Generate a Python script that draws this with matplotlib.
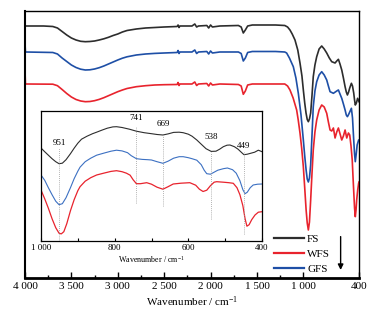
import matplotlib
matplotlib.use("Agg")
import matplotlib.pyplot as plt
from matplotlib.lines import Line2D

plt.rcParams['font.family'] = ['Liberation Serif', 'DejaVu Serif']
plt.rcParams['mathtext.fontset'] = 'custom'
plt.rcParams['mathtext.rm'] = 'Liberation Serif'
plt.rcParams['mathtext.it'] = 'Liberation Serif:italic'

# ---------------- main spectra (wavenumber, transmittance a.u.) -------------
oh_w = [3700, 3650, 3600, 3550, 3500, 3450, 3400, 3350, 3300, 3250, 3200, 3150, 3100, 3050, 3000, 2950,
        2900, 2800, 2700, 2600, 2500]
mid_w = [2360, 2350, 2340, 2330, 2200, 2170, 2150, 2130, 2040, 2020, 2000, 1980, 1900, 1700, 1670, 1647,
         1625, 1600, 1550, 1300]

fs_w = [4000, 3800] + oh_w + mid_w + [
    1200, 1170, 1144, 1120, 1090, 1060, 1036, 1015, 1000, 985, 971, 958, 946, 934, 921, 907, 893, 875,
    856, 830, 802, 775, 748, 720, 694, 658, 640, 622, 605, 586, 568, 550, 537, 525, 512, 500, 482, 470,
    457, 448, 440, 428, 415, 400]
fs_t = [252, 252] + [
    251.5, 250, 246.5, 243, 240, 238, 236.7, 236.3, 236.5, 237, 238, 239.2, 240.7, 242.5, 244, 246,
    247.5, 249, 250, 250.5, 251] + [
    251.5, 253, 250.5, 252, 252, 254, 251, 252, 252.5, 250, 253, 251, 252, 252.5, 251, 245,
    248, 252, 253, 253] + [
    252.5, 251, 248, 244, 238, 228, 215, 202, 188, 175, 165, 158.5, 156.3, 159, 165, 182, 201.3, 213,
    221.3, 229, 232, 229, 225, 220, 216.3, 215, 217, 218.7, 214, 208, 200, 191.3, 186, 183, 186, 190,
    194.7, 192, 185, 178, 173, 175, 179.7, 176.3]

gfs_w = [4000, 3995] + oh_w + mid_w + [
    1200, 1180, 1150, 1108, 1080, 1054, 1025, 1000, 985, 970, 958, 946, 934, 921, 907, 893, 875, 856,
    830, 802, 775, 748, 730, 712, 676, 640, 622, 605, 586, 568, 550, 537, 525, 512, 500, 482, 470, 457,
    448, 440, 430, 420, 404, 400]
gfs_t = [235, 226] + [
    225.5, 224, 220, 216.5, 213, 210.5, 208.8, 208, 208.2, 209, 210.3, 212, 214, 216, 218, 219.8,
    221.2, 223, 224, 224.6, 225] + [
    225.5, 227.5, 224.5, 226, 226, 228, 224.5, 226, 226.5, 224, 227, 225, 226, 226, 224.5, 217,
    220, 225.5, 226.5, 226.5] + [
    226, 225, 220, 211.3, 200, 184.7, 163, 138, 122, 108, 99, 96, 100, 113, 142, 171.3, 187, 196.3,
    203, 206.3, 203, 198, 192, 186.3, 184.7, 187, 188, 184, 179.7, 174, 168, 163, 161.3, 163.5, 166,
    169.7, 160, 138, 124, 116.3, 124, 133, 138, 138]

wfs_w = [4000, 3995] + oh_w + mid_w + [
    1200, 1170, 1144, 1110, 1072, 1055, 1036, 1018, 1000, 985, 970, 958, 946, 934, 921, 907, 893, 875,
    856, 830, 802, 775, 748, 730, 712, 694, 676, 658, 640, 622, 604, 586, 568, 550, 532, 514, 500, 486,
    473, 464, 455, 448, 440, 432, 425, 414, 404, 400]
wfs_t = [208, 194] + [
    193.8, 192.3, 188.5, 184.5, 181, 178.5, 177, 176.3, 176.5, 177.3, 178.6, 180.3, 182.3, 184.3,
    186.3, 188, 189.5, 191.3, 192.3, 193, 193.3] + [
    193.5, 195.5, 192.5, 194, 194, 196, 192.5, 194, 194.5, 192, 195, 193, 194, 193.5, 192, 183.7,
    187, 193, 194, 194] + [
    194, 192, 188, 180, 168, 158, 145, 130, 111.3, 90, 68, 55, 48, 56, 78, 104, 128, 146,
    158, 168, 173, 171, 164.7, 156, 148, 147, 150, 140, 146, 150, 144, 138, 142, 148, 140, 145, 143,
    132, 118, 100, 83, 70, 61.3, 68, 78, 88, 94.7, 96]

# ---------------- inset spectra (1000-400 cm-1) -------------
in_fs_w = [1000, 990, 980, 970, 960, 951, 942, 932, 920, 910, 900, 890, 875, 860, 849, 835, 820, 805,
           795, 780, 760, 741, 720, 700, 685, 669, 655, 640, 625, 614, 600, 590, 577, 565, 552, 538,
           525, 515, 505, 495, 487, 475, 465, 455, 449, 440, 430, 420, 410, 400]
in_fs_t = [92.7, 89, 85.5, 82, 79, 77, 77.5, 81, 87, 92.5, 97.5, 101.5, 104.5, 107, 108.5, 110.5,
           112.5, 113.8, 114, 113.2, 111.5, 109.5, 108, 107, 106.2, 105.7, 106.8, 108.3, 108.5, 108,
           106.5, 104.5, 100.7, 96.5, 92, 89.3, 89.5, 91.5, 94, 95.5, 95.7, 94, 91.5, 88, 86, 86.5,
           87.5, 88.5, 90.5, 89]

in_gfs_w = [1000, 990, 980, 970, 960, 951, 942, 932, 920, 910, 900, 894, 880, 865, 849, 830, 810, 795,
            780, 765, 755, 741, 725, 710, 700, 685, 669, 655, 640, 625, 614, 600, 590, 577, 565, 557,
            550, 540, 530, 520, 505, 494, 480, 470, 460, 452, 446, 440, 432, 424, 412, 400]
in_gfs_t = [65.7, 60.5, 53, 46, 39.5, 36, 37, 43, 53, 62, 69.5, 73.5, 79, 82.5, 85.5, 87.5, 89.5, 90.5,
            89.8, 88, 85, 82, 81.3, 81, 80.7, 79, 77.4, 79.5, 82.5, 84, 84, 83, 82, 80.5, 76, 70.5, 67,
            66.5, 68.5, 70.5, 72, 72.7, 71, 67.5, 60, 51, 47, 48.5, 53, 55.7, 56.5, 56.7]

in_wfs_w = [1000, 990, 980, 970, 960, 951, 945, 938, 930, 920, 910, 900, 894, 880, 865, 849, 830, 810,
            795, 780, 768, 758, 750, 741, 730, 713, 700, 685, 669, 655, 641, 620, 596, 580, 570, 560,
            550, 540, 530, 523, 505, 490, 478, 468, 460, 452, 446, 441, 435, 428, 419, 410, 400]
in_wfs_t = [50.7, 42, 32.5, 22, 13, 7.5, 6.8, 9, 17, 30, 41, 50, 54, 59.5, 63, 65.7, 67.5, 69.3, 70,
            69, 67.5, 65.5, 61, 57, 57, 58, 56.5, 53.5, 51.5, 54, 56.7, 57.5, 58, 55.5, 51.5, 49.2,
            50.5, 55, 58.5, 59, 58.5, 58, 57.4, 53, 46, 35, 22, 14.5, 16, 21, 25.7, 28.5, 29]

peak_pos = [951, 741, 669, 538, 449]
peak_labels = ['951', '741', '669', '538', '449']
line_top = [92.7, 114, 104.7, 88.7, 88.7]
line_bot = [0, 37.7, 34.7, 21.7, 6.7]
label_y = [97.7, 122.7, 116.7, 104, 95]

main_ticks = [4000, 3500, 3000, 2500, 2000, 1500, 1000, 400]
main_ticklabels = ['4 000', '3 500', '3 000', '2 500', '2 000', '1 500', '1 000', '400']
main_minor = [3750, 3250, 2750, 2250, 1750, 1250]
in_ticks = [1000, 800, 600, 400]
in_ticklabels = ['1 000', '800', '600', '400']
in_minor = [900, 700, 500]

c_black = '#2d2d2d'
c_red = '#e8232d'
c_blue = '#1e4fa6'
c_blue_in = '#3c70c2'

fig = plt.figure(figsize=(3.82, 3.16), dpi=100)
ax = fig.add_axes([0.0654, 0.1203, 0.8744, 0.8449])
ax.plot(fs_w, fs_t, color=c_black, lw=1.2)
ax.plot(gfs_w, gfs_t, color=c_blue, lw=1.2)
ax.plot(wfs_w, wfs_t, color=c_red, lw=1.2)
ax.set_xlim(4000, 400)
ax.set_ylim(0, 267)
ax.set_yticks([])
ax.set_xticks(main_ticks)
ax.set_xticklabels(main_ticklabels, fontsize=8)
ax.set_xticks(main_minor, minor=True)
ax.tick_params(axis='x', which='major', direction='in', length=4, width=1, pad=3)
ax.tick_params(axis='x', which='minor', direction='in', length=2.5, width=1)
ax.set_xlabel('Wavenumber / cm$^{\\mathrm{-1}}$', fontsize=8, labelpad=2)
for s in ['top', 'right']:
    ax.spines[s].set_linewidth(1.0)
ax.spines['left'].set_linewidth(1.5)
ax.spines['bottom'].set_linewidth(2.0)

handles = [Line2D([], [], color=c_black, lw=1.6),
           Line2D([], [], color=c_red, lw=1.6),
           Line2D([], [], color=c_blue, lw=1.6)]
ax.legend(handles, ['FS', 'WFS', 'GFS'], loc='center left', bbox_to_anchor=(0.745, 0.09),
          frameon=False, fontsize=8, handlelength=2.7, handletextpad=0.3, labelspacing=0.45,
          borderpad=0, borderaxespad=0)
ax.annotate('', xy=(0.945, 0.03), xytext=(0.945, 0.155), xycoords='axes fraction',
            arrowprops=dict(arrowstyle='-|>', color='black', lw=1.0, mutation_scale=8,
                            shrinkA=0, shrinkB=0))

# inset
axi = fig.add_axes([0.1073, 0.2383, 0.5786, 0.4114])
axi.plot(in_fs_w, in_fs_t, color=c_black, lw=0.8)
axi.plot(in_gfs_w, in_gfs_t, color=c_blue_in, lw=0.8)
axi.plot(in_wfs_w, in_wfs_t, color=c_red, lw=0.9)
axi.vlines(peak_pos, line_bot, line_top, colors='#9a9a9a', linestyles=(0, (1, 1.5)), lw=0.6)
for x, lab, y in zip(peak_pos, peak_labels, label_y):
    axi.text(x, y, lab, ha='center', va='center', fontsize=6.5)
axi.set_xlim(1000, 400)
axi.set_ylim(0, 130)
axi.set_yticks([])
axi.set_xticks(in_ticks)
axi.set_xticklabels(in_ticklabels, fontsize=6.5)
axi.set_xticks(in_minor, minor=True)
axi.tick_params(axis='x', which='major', direction='in', length=2.5, width=0.8, pad=2.5)
axi.tick_params(axis='x', which='minor', direction='in', length=2, width=0.8)
axi.set_xlabel('Wavenumber / cm$^{\\mathrm{-1}}$', fontsize=5.8, labelpad=1.5)
for s in axi.spines.values():
    s.set_linewidth(0.9)

fig.savefig('out.png', dpi=100)
